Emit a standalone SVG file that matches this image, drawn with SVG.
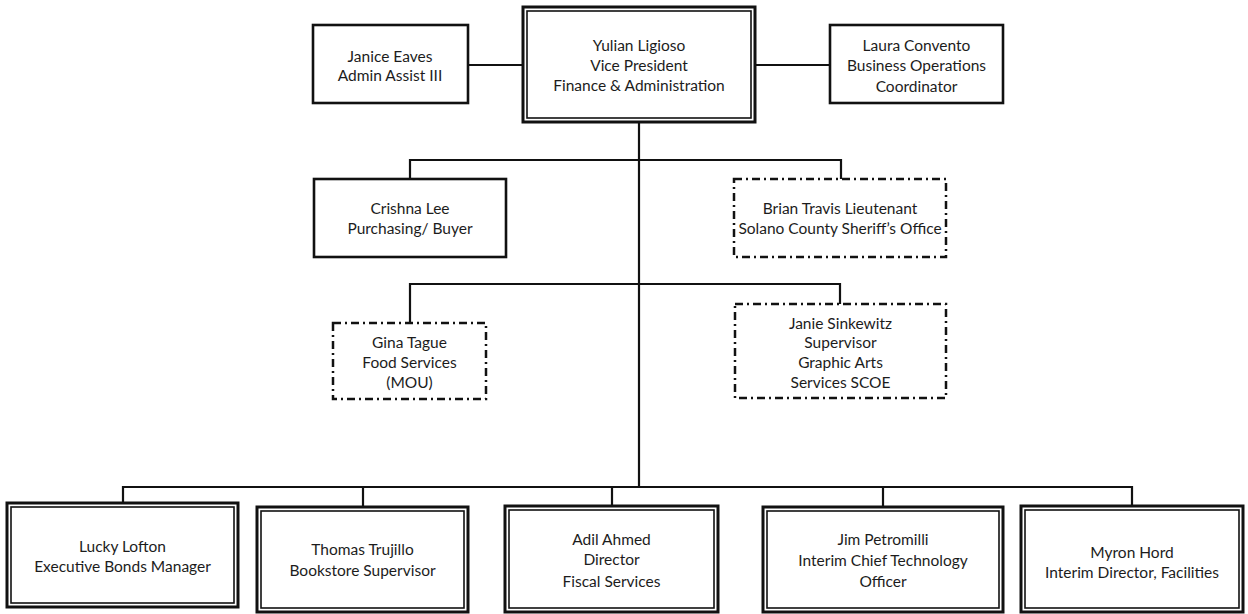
<svg xmlns="http://www.w3.org/2000/svg" width="1248" height="614" viewBox="0 0 1248 614">
  <style>
    .bg { fill: #ffffff; }
    .box { fill: #ffffff; stroke: #111111; stroke-width: 2.6; }
    .dbl-out { fill: #ffffff; stroke: #111111; stroke-width: 3; }
    .dbl-in { fill: none; stroke: #111111; stroke-width: 1.6; }
    .dash { fill: #ffffff; stroke: #111111; stroke-width: 2.5; stroke-dasharray: 8 4 2 4; }
    .wire { fill: none; stroke: #111111; stroke-width: 2.2; }
    text { font-family: Lato, "Open Sans", "Liberation Sans", sans-serif; font-size: 15.5px; fill: #1c1c1c; text-anchor: middle; dominant-baseline: central; }
  </style>
  <rect class="bg" x="0" y="0" width="1248" height="614"/>

  <!-- reporting lines -->
  <g id="connectors">
    <line class="wire" x1="468" y1="65" x2="523" y2="65"/>
    <line class="wire" x1="755" y1="65" x2="830" y2="65"/>
    <line class="wire" x1="639" y1="122" x2="639" y2="487"/>
    <polyline class="wire" points="410,179 410,160 841,160 841,179"/>
    <polyline class="wire" points="410,323 410,284 840,284 840,304"/>
    <polyline class="wire" points="123,503 123,487 1132,487 1132,506"/>
    <line class="wire" x1="363" y1="487" x2="363" y2="507"/>
    <line class="wire" x1="612" y1="487" x2="612" y2="506"/>
    <line class="wire" x1="883" y1="487" x2="883" y2="507"/>
  </g>

  <!-- top row -->
  <g id="node-janice">
    <rect class="box" x="313" y="25" width="155" height="78"/>
    <text x="390" y="56">Janice Eaves</text>
    <text x="390" y="75">Admin Assist III</text>
  </g>
  <g id="node-yulian">
    <rect class="dbl-out" x="523" y="7" width="232" height="115"/>
    <rect class="dbl-in" x="527" y="11" width="224" height="107"/>
    <text x="639" y="45">Yulian Ligioso</text>
    <text x="639" y="65">Vice President</text>
    <text x="639" y="85">Finance &amp; Administration</text>
  </g>
  <g id="node-laura">
    <rect class="box" x="830" y="25" width="173" height="78"/>
    <text x="916.5" y="45">Laura Convento</text>
    <text x="916.5" y="65">Business Operations</text>
    <text x="916.5" y="86">Coordinator</text>
  </g>

  <!-- second row -->
  <g id="node-crishna">
    <rect class="box" x="314" y="179" width="192" height="78"/>
    <text x="410" y="208">Crishna Lee</text>
    <text x="410" y="228">Purchasing/ Buyer</text>
  </g>
  <g id="node-brian">
    <rect class="dash" x="734" y="179" width="212" height="78"/>
    <text x="840" y="208">Brian Travis Lieutenant</text>
    <text x="840" y="228">Solano County Sheriff’s Office</text>
  </g>

  <!-- third row -->
  <g id="node-gina">
    <rect class="dash" x="333" y="323" width="153" height="76"/>
    <text x="409.5" y="342">Gina Tague</text>
    <text x="409.5" y="362">Food Services</text>
    <text x="409.5" y="382">(MOU)</text>
  </g>
  <g id="node-janie">
    <rect class="dash" x="735" y="304" width="211" height="94"/>
    <text x="840.5" y="323">Janie Sinkewitz</text>
    <text x="840.5" y="342">Supervisor</text>
    <text x="840.5" y="362">Graphic Arts</text>
    <text x="840.5" y="382">Services SCOE</text>
  </g>

  <!-- bottom row -->
  <g id="node-lucky">
    <rect class="dbl-out" x="7" y="503" width="231" height="104"/>
    <rect class="dbl-in" x="11" y="507" width="223" height="96"/>
    <text x="122.5" y="546">Lucky Lofton</text>
    <text x="122.5" y="566">Executive Bonds Manager</text>
  </g>
  <g id="node-thomas">
    <rect class="dbl-out" x="257" y="507" width="211" height="105"/>
    <rect class="dbl-in" x="261" y="511" width="203" height="97"/>
    <text x="362.5" y="549">Thomas Trujillo</text>
    <text x="362.5" y="570">Bookstore Supervisor</text>
  </g>
  <g id="node-adil">
    <rect class="dbl-out" x="505" y="506" width="213" height="106"/>
    <rect class="dbl-in" x="509" y="510" width="205" height="98"/>
    <text x="611.5" y="539">Adil Ahmed</text>
    <text x="611.5" y="559">Director</text>
    <text x="611.5" y="581">Fiscal Services</text>
  </g>
  <g id="node-jim">
    <rect class="dbl-out" x="763" y="507" width="240" height="105"/>
    <rect class="dbl-in" x="767" y="511" width="232" height="97"/>
    <text x="883" y="539">Jim Petromilli</text>
    <text x="883" y="560">Interim Chief Technology</text>
    <text x="883" y="581">Officer</text>
  </g>
  <g id="node-myron">
    <rect class="dbl-out" x="1021" y="506" width="222" height="106"/>
    <rect class="dbl-in" x="1025" y="510" width="214" height="98"/>
    <text x="1132" y="552">Myron Hord</text>
    <text x="1132" y="572">Interim Director, Facilities</text>
  </g>
</svg>
